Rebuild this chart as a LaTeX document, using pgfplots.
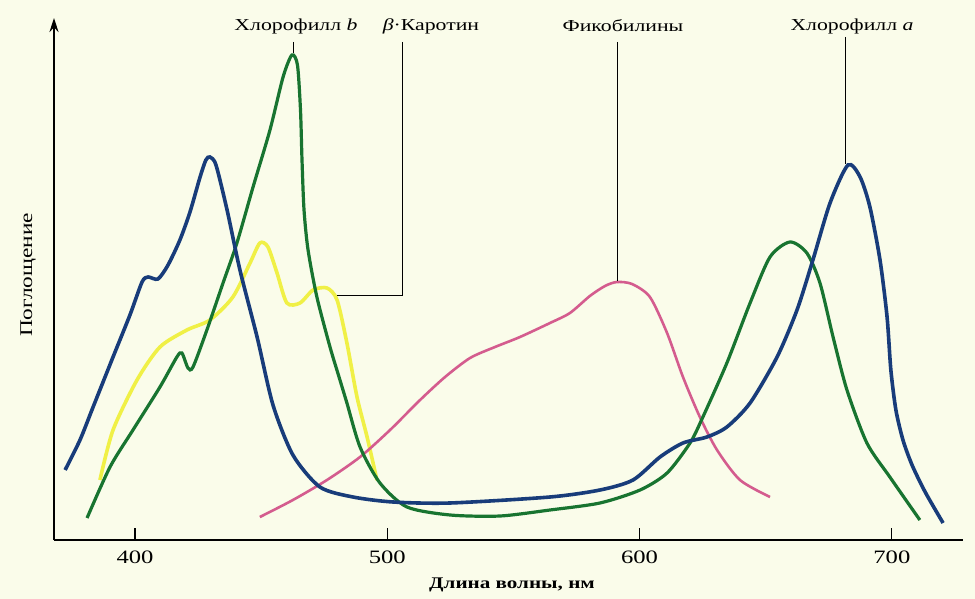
\documentclass[border=0pt]{standalone}
\usepackage{fontspec}
\setmainfont{Liberation Serif}
\newfontfamily\labfont[FakeStretch=1.3]{Liberation Serif}
\usepackage{pgfplots}
\usepackage{pgfplotstable}
\pgfplotsset{compat=1.18}
\usetikzlibrary{arrows.meta}
\definecolor{bg}{RGB}{250,252,234}
\definecolor{cblue}{RGB}{24,60,122}
\definecolor{cgreen}{RGB}{24,116,48}
\definecolor{cyellow}{RGB}{240,240,70}
\definecolor{cpink}{RGB}{212,92,142}

\pgfplotstableread{
x y
372.3 70
378.2 100
383.4 133
391.3 183
398.0 225
402.8 258
405.2 263
409.1 261
413.1 275
417.8 300
421.8 328
425.8 363
428.1 380
429.7 383
432.1 375
436.5 330
441.6 270
448.4 203
454.7 135
462.6 85
473.3 53
486.4 43
502.3 38
524.9 37
564.5 43
584.3 50
597.4 60
608.1 83
617.2 97
626.7 103
634.6 113
643.8 137
654.5 183
662.4 230
668.7 280
675.5 337
682.6 375
687.4 363
691.3 333
695.3 280
698.1 223
699.6 170
701.6 130
704.4 100
708.0 75
713.2 48
720.3 17
}\chla

\pgfplotstableread{
x y
381.0 22
390.1 73
399.2 110
409.9 153
416.6 183
418.6 187
421.0 172
423.0 173
428.5 210
434.9 257
440.4 297
446.8 353
453.5 410
458.7 463
462.2 485
464.4 475
465.6 430
466.2 380
467.0 330
468.6 290
472.1 243
477.3 193
481.0 162
484.0 137
489.2 93
497.1 57
507.8 33
524.9 25
544.7 24
564.5 30
584.3 37
600.2 50
610.9 67
620.0 97
625.1 123
634.6 177
643.8 237
651.7 283
659.6 298
666.3 287
671.5 257
676.7 203
682.2 150
690.1 97
699.2 63
711.1 20
}\chlb

\pgfplotstableread{
x y
386.1 60
391.3 110
400.8 160
409.9 193
420.6 210
429.7 220
438.8 243
445.6 277
449.5 297
452.7 293
456.3 267
460.2 237
465.4 237
470.6 250
476.1 252
480.1 240
484.0 197
488.0 143
492.0 103
495.9 60
}\carot

\pgfplotstableread{
x y
449.5 23
462.6 40
476.1 60
489.2 83
501.1 110
513.0 140
522.9 163
532.8 182
542.7 193
552.6 203
564.5 217
572.4 227
580.3 244
586.3 254
591.0 258
597.0 256
604.1 243
610.9 207
617.2 163
623.9 123
630.7 90
639.8 60
651.7 43
}\phyco

\begin{document}
\begin{tikzpicture}
\fill[bg] (0,0) rectangle (975bp,599bp);
\begin{axis}[
  at={(54bp,59bp)}, anchor=south west,
  scale only axis, width=909bp, height=522bp,
  xmin=367.9, xmax=728.2, ymin=0, ymax=522,
  axis lines=left,
  axis line style={line width=1.6bp},
  x axis line style={-},
  y axis line style={-{Stealth[length=14bp,width=9bp]}},
  xtick={400,500,600,700}, ytick=\empty,
  tick align=inside, major tick length=12bp,
  tick style={black, line width=1.2bp},
  /pgf/number format/assume math mode=true,
  xticklabel style={font=\labfont\fontsize{19}{19}\selectfont, anchor=center, yshift=-17bp},
  clip=false,
]
\addplot[cyellow, line width=3.6bp, smooth, tension=0.45] table {\carot};
\addplot[cpink, line width=2.6bp, smooth, tension=0.45] table {\phyco};
\addplot[cgreen, line width=3.2bp, smooth, tension=0.45] table {\chlb};
\addplot[cblue, line width=3.6bp, smooth, tension=0.45] table {\chla};

\draw[black, line width=0.8bp] (axis cs:462.6,498) -- (axis cs:462.6,487);
\draw[black, line width=0.8bp] (axis cs:505.8,498) -- (axis cs:505.8,245) -- (axis cs:480.1,245);
\draw[black, line width=0.8bp] (axis cs:591.4,498) -- (axis cs:591.4,259);
\draw[black, line width=0.8bp] (axis cs:681.4,503) -- (axis cs:681.4,376);

\node[font=\labfont\fontsize{16.8}{16.8}\selectfont] at (axis cs:463.8,514) {Хлорофилл \textit{b}};
\node[font=\labfont\fontsize{16.8}{16.8}\selectfont] at (axis cs:517.3,514) {\textit{β}·Каротин};
\node[font=\labfont\fontsize{16.8}{16.8}\selectfont] at (axis cs:593.4,514) {Фикобилины};
\node[font=\labfont\fontsize{16.8}{16.8}\selectfont] at (axis cs:684.2,514) {Хлорофилл \textit{a}};
\end{axis}
\node[font=\labfont\bfseries\fontsize{16.3}{16.3}\selectfont] at (512bp,14bp) {Длина волны, нм};
\node[font=\labfont\fontsize{18}{18}\selectfont, rotate=90] at (28bp,324bp) {Поглощение};
\end{tikzpicture}
\end{document}
